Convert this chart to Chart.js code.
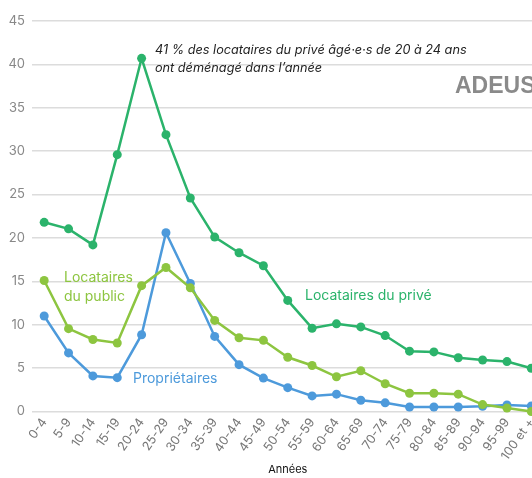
<!DOCTYPE html>
<html><head><meta charset="utf-8">
<script src="https://cdn.jsdelivr.net/npm/chart.js@4/dist/chart.umd.min.js"></script>
<style>
html,body{margin:0;padding:0;background:#fff;overflow:hidden;}
#wrap{width:548px;height:478px;position:relative;}
</style></head>
<body><div id="wrap"><canvas id="c"></canvas></div>
<script>
const categories = ["0-4","5-9","10-14","15-19","20-24","25-29","30-34","35-39","40-44","45-49","50-54","55-59","60-64","65-69","70-74","75-79","80-84","85-89","90-94","95-99","100 et +"];
const locatairesPrive = [21.8,21.05,19.2,29.6,40.7,31.9,24.6,20.1,18.3,16.8,12.8,9.6,10.1,9.75,8.75,6.95,6.87,6.2,5.94,5.75,4.98];
const locatairesPublic = [15.1,9.55,8.3,7.9,14.5,16.6,14.25,10.5,8.5,8.2,6.25,5.3,4.0,4.7,3.2,2.1,2.1,2.0,0.8,0.4,0.0];
const proprietaires = [11.0,6.75,4.1,3.9,8.85,20.6,14.75,8.65,5.4,3.85,2.75,1.8,2.0,1.3,1.0,0.52,0.52,0.52,0.6,0.75,0.63];
const yTicks = [0,5,10,15,20,25,30,35,40,45];

const C_PRIVE = '#2BB36B', C_PUBLIC = '#8DC540', C_PROP = '#4D9ADB';
const FONT = 'Inter, "Open Sans", sans-serif';

const labelsPlugin = {
  id: 'labels',
  afterDatasetsDraw(chart) {
    const ctx = chart.ctx;
    ctx.save();
    ctx.textBaseline = 'middle';
    ctx.textAlign = 'left';
    ctx.font = '14px ' + FONT;
    ctx.fillStyle = C_PUBLIC;
    ctx.fillText('Locataires', 64, 278);
    ctx.fillText('du public', 64, 297);
    ctx.fillStyle = C_PROP;
    ctx.fillText('Propriétaires', 133, 379);
    ctx.fillStyle = C_PRIVE;
    ctx.fillText('Locataires du privé', 305, 296);
    ctx.fillStyle = '#222';
    ctx.font = 'italic 12.7px ' + FONT;
    ctx.fillText('41 % des locataires du privé âgé·e·s de 20 à 24 ans', 155, 50);
    ctx.fillText('ont déménagé dans l\u2019année', 155, 68);
    ctx.fillStyle = '#8a8a8a';
    ctx.font = 'bold 23px "Liberation Sans", Arial, sans-serif';
    ctx.fillText('ADEUS', 455, 87);
    ctx.restore();
  }
};

new Chart(document.getElementById('c'), {
  type: 'line',
  data: {
    labels: categories,
    datasets: [
      {label:'Locataires du privé', data: locatairesPrive, borderColor: C_PRIVE, backgroundColor: C_PRIVE},
      {label:'Locataires du public', data: locatairesPublic, borderColor: C_PUBLIC, backgroundColor: C_PUBLIC},
      {label:'Propriétaires', data: proprietaires, borderColor: C_PROP, backgroundColor: C_PROP}
    ]
  },
  options: {
    responsive: true,
    maintainAspectRatio: false,
    animation: false,
    clip: false,
    layout: {padding: {top: 21, left: 0, right: 0, bottom: 0}},
    elements: {
      line: {borderWidth: 2.5, tension: 0},
      point: {radius: 4.5, borderWidth: 0, hoverRadius: 4.5}
    },
    plugins: {legend: {display: false}, tooltip: {enabled: false}},
    scales: {
      x: {
        offset: true,
        grid: {display: false, drawTicks: false},
        border: {display: false},
        ticks: {color: '#777', font: {family: FONT, size: 12.5}, minRotation: 55, maxRotation: 55, autoSkip: false, padding: 4},
        title: {display: true, text: 'Années', color: '#111', font: {family: FONT, size: 11}, padding: {top: 0, bottom: 2}},
        afterFit(s) { s.height = 66.5; }
      },
      y: {
        min: 0, max: 45,
        afterBuildTicks(s) { s.ticks = yTicks.map(v => ({value: v})); },
        grid: {color: '#dcdcdc', lineWidth: 1.5, drawTicks: false},
        border: {display: false},
        ticks: {color: '#888', font: {family: FONT, size: 13}, padding: 7},
        afterFit(s) { s.width = 32; }
      }
    }
  },
  plugins: [labelsPlugin]
});
</script></body></html>
